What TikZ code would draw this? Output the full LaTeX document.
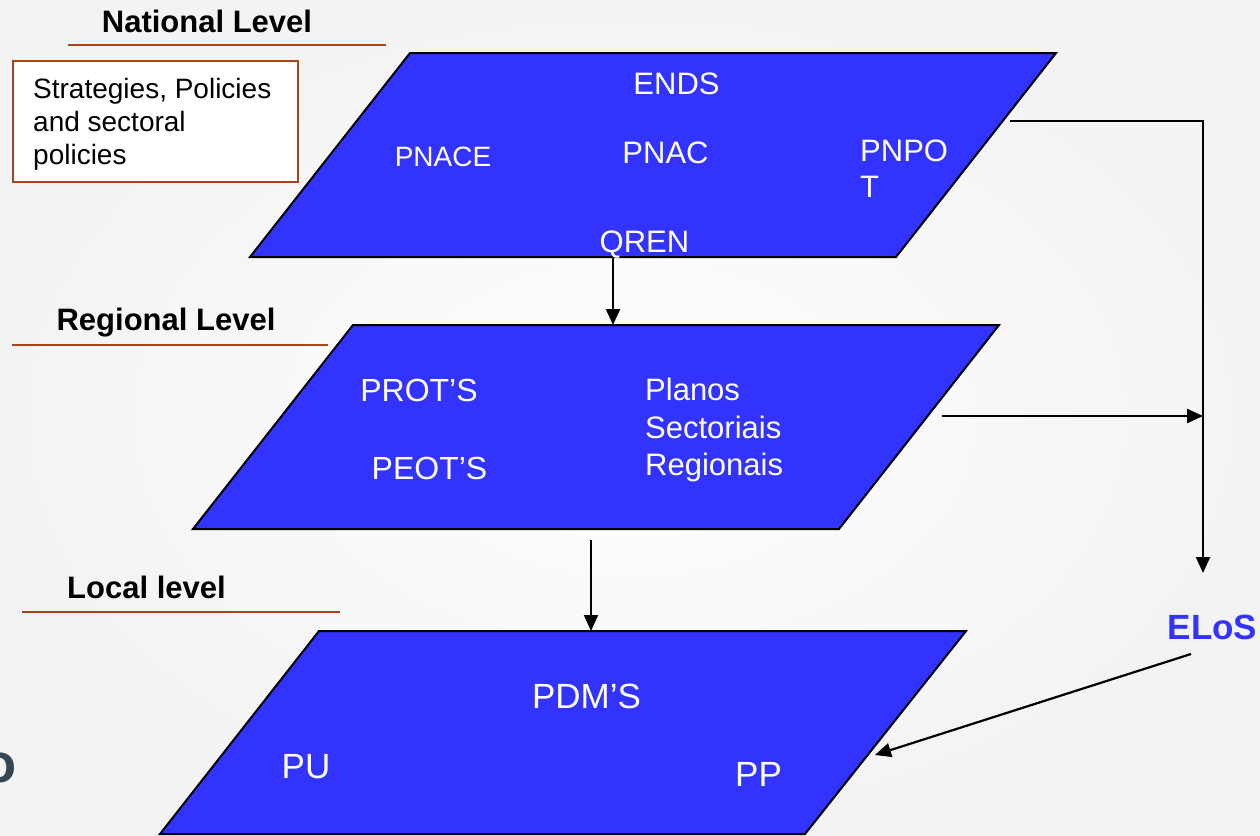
\documentclass[tikz,border=0pt]{standalone}
\usepackage{fontspec}
\setmainfont{Liberation Sans}
\newfontfamily\ofont{DejaVu Sans}
\usetikzlibrary{arrows.meta}
\definecolor{planblue}{RGB}{51,51,255}
\definecolor{rule}{RGB}{165,70,25}
\definecolor{slate}{RGB}{55,70,85}
\tikzset{
  plane/.style={fill=planblue, draw=black, line width=2pt, line join=miter},
  lvl/.style={anchor=base, font=\bfseries\fontsize{31}{36}\selectfont, inner sep=0pt},
  lvlrule/.style={draw=rule, line width=1.8pt},
  lab/.style={anchor=base, text=white, inner sep=0pt, font=\fontsize{31}{36}\selectfont},
  conn/.style={draw=black, line width=2.2pt, -{Triangle[length=16pt,width=14pt]}},
}
\begin{document}
\begin{tikzpicture}[x=1pt,y=-1pt]
\shade[inner color=white, outer color={rgb,255:red,243;green,243;blue,243}] (0,0) rectangle (1260,835);
\useasboundingbox (0,0) rectangle (1260,835);

% partial logo glyph at left edge
\node[anchor=east, inner sep=0pt, text=slate, font=\ofont\bfseries\fontsize{40}{40}\selectfont] (logo) at (17,768) {O};

% level headings
\node[lvl] (natl) at (207,32) {National Level};
\draw[lvlrule] (68,45) coordinate (nr1) -- (386,45) coordinate (nr2);
\node[lvl] (regl) at (166,330) {Regional Level};
\draw[lvlrule] (12,345) coordinate (rr1) -- (328,345) coordinate (rr2);
\node[lvl] (locl) at (146.5,598) {Local level};
\draw[lvlrule] (22,612) coordinate (lr1) -- (340,612) coordinate (lr2);

% strategies box
\draw[draw=rule, line width=1.8pt, fill=white] (13,61) rectangle (298,182);
\node[anchor=north west, inner sep=0pt, align=left, font=\fontsize{28}{33}\selectfont] (strat) at (33,78) {Strategies, Policies\\and sectoral\\policies};

% planes
\draw[plane] (410,53) coordinate (t1) -- (1056,53) coordinate (t2) -- (896,257) coordinate (t3) -- (250,257) coordinate (t4) -- cycle;
\draw[plane] (353,325) coordinate (m1) -- (999,325) coordinate (m2) -- (839,529) coordinate (m3) -- (193,529) coordinate (m4) -- cycle;
\draw[plane] (319,631) coordinate (b1) -- (966,631) coordinate (b2) -- (805,834) coordinate (b3) -- (160,834) coordinate (b4) -- cycle;

% national labels
\node[lab] (ends) at (676.5,94) {ENDS};
\node[lab, font=\fontsize{28}{33}\selectfont] (pnace) at (443,166) {PNACE};
\node[lab] (pnac) at (665.5,163) {PNAC};
\node[lab, anchor=north west, align=left] (pnpot) at (860,140) {PNPO\\T};
\node[lab] (qren) at (644.5,252) {QREN};

% regional labels
\node[lab, font=\fontsize{32}{37}\selectfont] (prots) at (419,401.5) {PROT’S};
\node[lab, font=\fontsize{32}{37}\selectfont] (peots) at (429.5,479.5) {PEOT’S};
\node[lab, anchor=north west, align=left, font=\fontsize{31}{37.5}\selectfont] (psr) at (645,378) {Planos\\Sectoriais\\Regionais};

% local labels
\node[lab, font=\fontsize{35}{40}\selectfont] (pdms) at (586.5,708.5) {PDM’S};
\node[lab, font=\fontsize{35}{40}\selectfont] (pu) at (306,778.5) {PU};
\node[lab, font=\fontsize{35}{40}\selectfont] (pp) at (758.5,786.5) {PP};

% ELoS
\node[anchor=base, inner sep=0pt, text=planblue, font=\bfseries\fontsize{35}{40}\selectfont] (elos) at (1212.5,639.5) {ELoS};

% connectors
\coordinate (qa) at (613,257);
\coordinate (qb) at (613,325);
\draw[conn] (qa) -- (qb);
\coordinate (ra) at (591,540);
\coordinate (rb) at (591,631);
\draw[conn] (ra) -- (rb);
\coordinate (na) at (1010,121);
\coordinate (nc) at (1203,121);
\coordinate (nd) at (1203,573);
\draw[conn] (na) -- (nc) -- (nd);
\coordinate (ma) at (942,416);
\coordinate (mb) at (1203,416);
\draw[conn] (ma) -- (mb);
\coordinate (ea) at (1191,654);
\coordinate (eb) at (875,755);
\draw[conn] (ea) -- (eb);
\end{tikzpicture}
\end{document}
